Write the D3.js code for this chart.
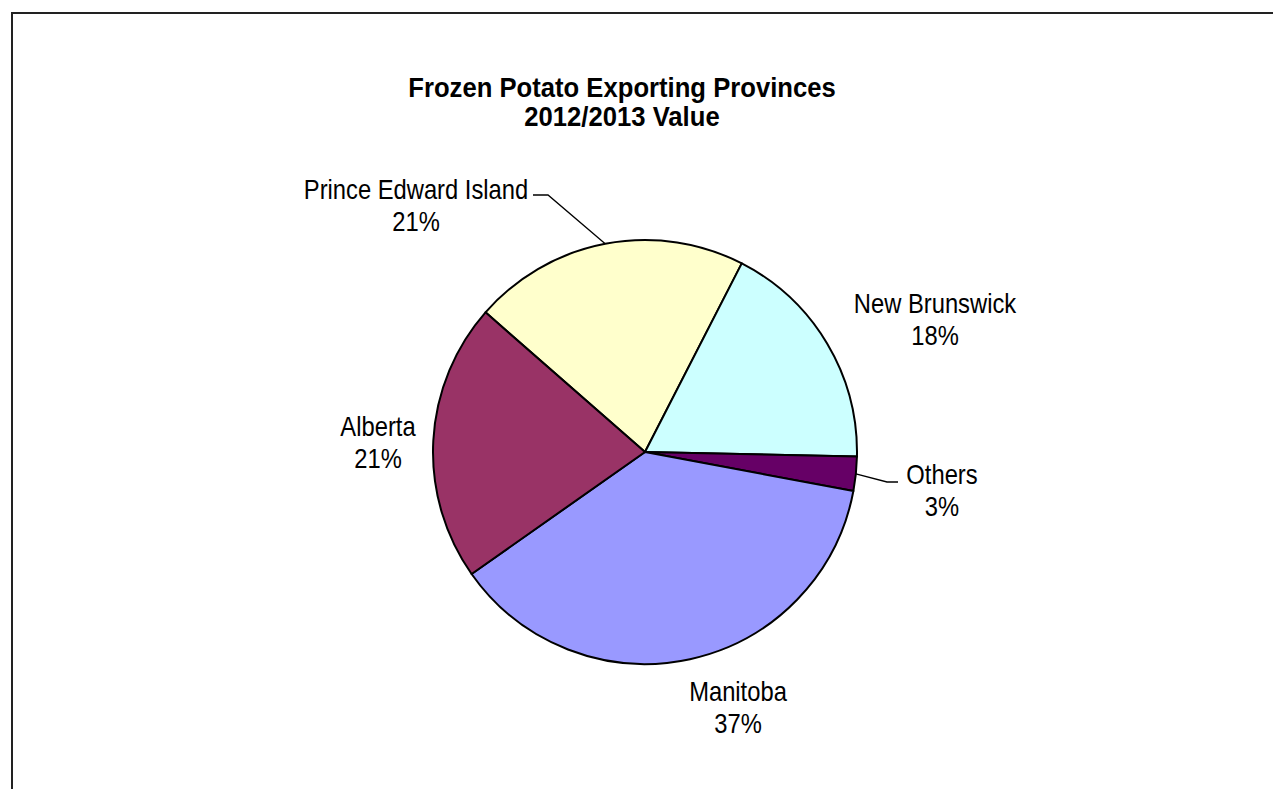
<!DOCTYPE html>
<html>
<head>
<meta charset="utf-8">
<script src="https://cdn.jsdelivr.net/npm/d3@7"></script>
<style>
  html, body { margin: 0; padding: 0; background: #fff; overflow: hidden; }
  svg { display: block; }
  text { font-family: "Liberation Sans", Arial, sans-serif; fill: #000; }
</style>
</head>
<body>
<svg id="chart" width="1273" height="789"></svg>
<script>
const titleLines = ["Frozen Potato Exporting Provinces", "2012/2013 Value"];
const categories = ["Prince Edward Island", "New Brunswick", "Others", "Manitoba", "Alberta"];
const values = [21.1, 17.8, 2.6, 37.3, 21.2];
const colors = ["#FFFFCC", "#CCFFFF", "#660066", "#9999FF", "#993366"];

const W = 1273, H = 789;
const cx = 645, cy = 452, R = 212;
const startDeg = -48.8;

const svg = d3.select("#chart");

// outer frame
svg.append("rect")
  .attr("x", 12).attr("y", 13)
  .attr("width", W + 50).attr("height", H + 50)
  .attr("fill", "#fff").attr("stroke", "#222").attr("stroke-width", 2);

// title
const titleG = svg.append("g").attr("transform", "translate(622,0) scale(0.95,1)");
const title = titleG.append("text")
  .attr("text-anchor", "middle")
  .style("font-weight", "bold")
  .style("font-size", "27px");
title.selectAll("tspan").data(titleLines).join("tspan")
  .attr("x", 0)
  .attr("y", (d, i) => 97 + i * 29)
  .text(d => d);

const data = categories.map((c, i) => ({ name: c, value: values[i], color: colors[i] }));
const total = d3.sum(values);

const pie = d3.pie()
  .value(d => d.value)
  .sort(null)
  .startAngle(startDeg * Math.PI / 180)
  .endAngle(startDeg * Math.PI / 180 + 2 * Math.PI);

const arc = d3.arc().innerRadius(0).outerRadius(R);
const arcs = pie(data);

const g = svg.append("g").attr("transform", `translate(${cx},${cy})`);
g.selectAll("path").data(arcs).join("path")
  .attr("d", arc)
  .attr("fill", d => d.data.color)
  .attr("stroke", "#000")
  .attr("stroke-width", 2)
  .attr("stroke-linejoin", "round");

// label placement (center x, first baseline) in page coords
const labelPos = {
  "Prince Edward Island": [416, 199],
  "New Brunswick": [935, 313],
  "Others": [942, 484],
  "Manitoba": [738, 701],
  "Alberta": [378, 436]
};

const pct = v => Math.round(v / total * 100) + "%";

const labels = svg.append("g");
arcs.forEach(a => {
  const [lx, ly] = labelPos[a.data.name];
  const t = labels.append("g")
    .attr("transform", `translate(${lx},${ly}) scale(0.88,1)`)
    .append("text")
    .attr("text-anchor", "middle")
    .style("font-size", "27px");
  t.append("tspan").attr("x", 0).attr("y", 0).text(a.data.name);
  t.append("tspan").attr("x", 0).attr("y", 32).text(pct(a.data.value));
});

// leader lines: from slice mid-arc point to label
function edgePoint(a, frac) {
  const ang = a.startAngle + (a.endAngle - a.startAngle) * frac;
  return [cx + R * Math.sin(ang), cy - R * Math.cos(ang)];
}
const leaders = [
  { name: "Prince Edward Island", frac: 0.5, pts: [[548, 195], [533, 195]] },
  { name: "Others", frac: 0.5, pts: [[887, 482], [898, 482]] }
];
leaders.forEach(l => {
  const a = arcs.find(d => d.data.name === l.name);
  const p0 = edgePoint(a, l.frac);
  svg.append("path")
    .attr("d", d3.line()([p0, ...l.pts]))
    .attr("fill", "none")
    .attr("stroke", "#000")
    .attr("stroke-width", 1.3);
});
</script>
</body>
</html>
